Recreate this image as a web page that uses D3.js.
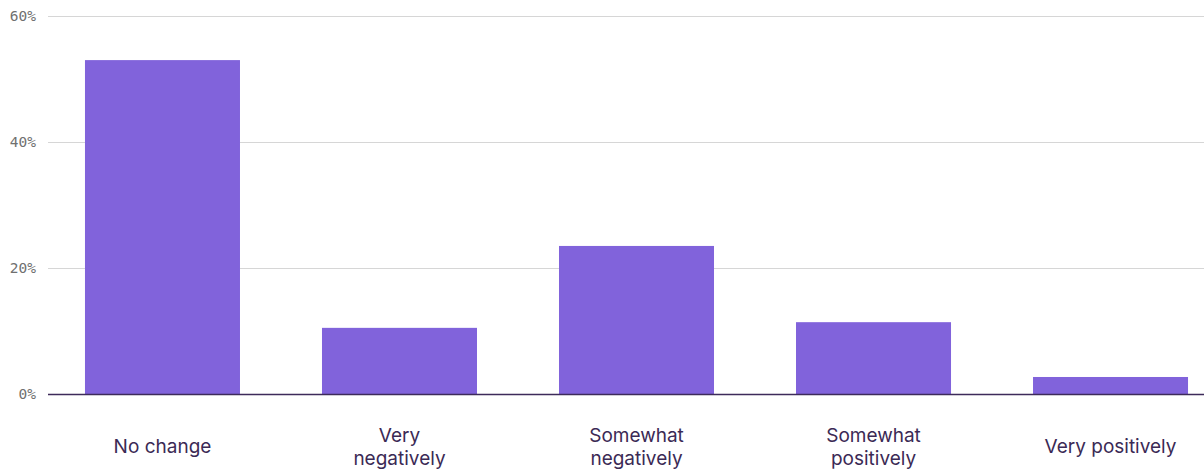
<!DOCTYPE html>
<html>
<head>
<meta charset="utf-8">
<script src="https://cdn.jsdelivr.net/npm/d3@7"></script>
<style>
  html, body { margin: 0; padding: 0; background: #ffffff; }
  svg { display: block; }
</style>
</head>
<body>
<svg id="chart" width="1204" height="470"></svg>
<script>
// Response categories (label lines) and share of respondents (%)
const categories = [
  ["No change"],
  ["Very", "negatively"],
  ["Somewhat", "negatively"],
  ["Somewhat", "positively"],
  ["Very positively"]
];
const values = [53.0, 10.5, 23.5, 11.4, 2.7];
const yTicks = [0, 20, 40, 60];

const svg = d3.select("#chart");
const plotLeft = 48, plotRight = 1204, plotTop = 16, plotBottom = 394;

const keys = categories.map(c => c.join(" "));

const x = d3.scaleBand()
  .domain(keys)
  .range([plotLeft, 1225])
  .paddingInner(0.346)
  .paddingOuter(0.156);

const y = d3.scaleLinear()
  .domain([0, 60])
  .range([plotBottom, plotTop]);

// Horizontal gridlines
svg.append("g")
  .selectAll("line")
  .data(yTicks.filter(t => t !== 0))
  .join("line")
  .attr("x1", plotLeft)
  .attr("x2", plotRight)
  .attr("y1", d => y(d) + 0.5)
  .attr("y2", d => y(d) + 0.5)
  .attr("stroke", "#d6d6d6")
  .attr("stroke-width", 1);

// Y tick labels
svg.append("g")
  .selectAll("text")
  .data(yTicks)
  .join("text")
  .attr("x", 36)
  .attr("y", d => y(d))
  .attr("dy", "0.35em")
  .attr("text-anchor", "end")
  .attr("font-family", "'DejaVu Sans Mono', monospace")
  .attr("font-size", 14.5)
  .attr("fill", "#707070")
  .text(d => d + "%");

// Bars
svg.append("g")
  .selectAll("rect")
  .data(values)
  .join("rect")
  .attr("x", (d, i) => x(keys[i]))
  .attr("width", x.bandwidth())
  .attr("y", d => y(d))
  .attr("height", d => y(0) - y(d))
  .attr("fill", "#8163db");

// Baseline
svg.append("line")
  .attr("x1", plotLeft)
  .attr("x2", plotRight)
  .attr("y1", plotBottom + 0.5)
  .attr("y2", plotBottom + 0.5)
  .attr("stroke", "#3d2b5a")
  .attr("stroke-width", 1.3);

// Category labels
const lineH = 23;
const labels = svg.append("g")
  .selectAll("text")
  .data(categories)
  .join("text")
  .attr("text-anchor", "middle")
  .attr("font-family", "Inter, sans-serif")
  .attr("font-size", 19)
  .attr("fill", "#3b2a55")
  .attr("transform", (d, i) => `translate(${x(keys[i]) + x.bandwidth() / 2},0)`);

labels.selectAll("tspan")
  .data(d => d.map((t, j) => ({ t, j, n: d.length })))
  .join("tspan")
  .attr("x", 0)
  .attr("y", d => 453 + (d.j - (d.n - 1) / 2) * lineH)
  .text(d => d.t);
</script>
</body>
</html>
